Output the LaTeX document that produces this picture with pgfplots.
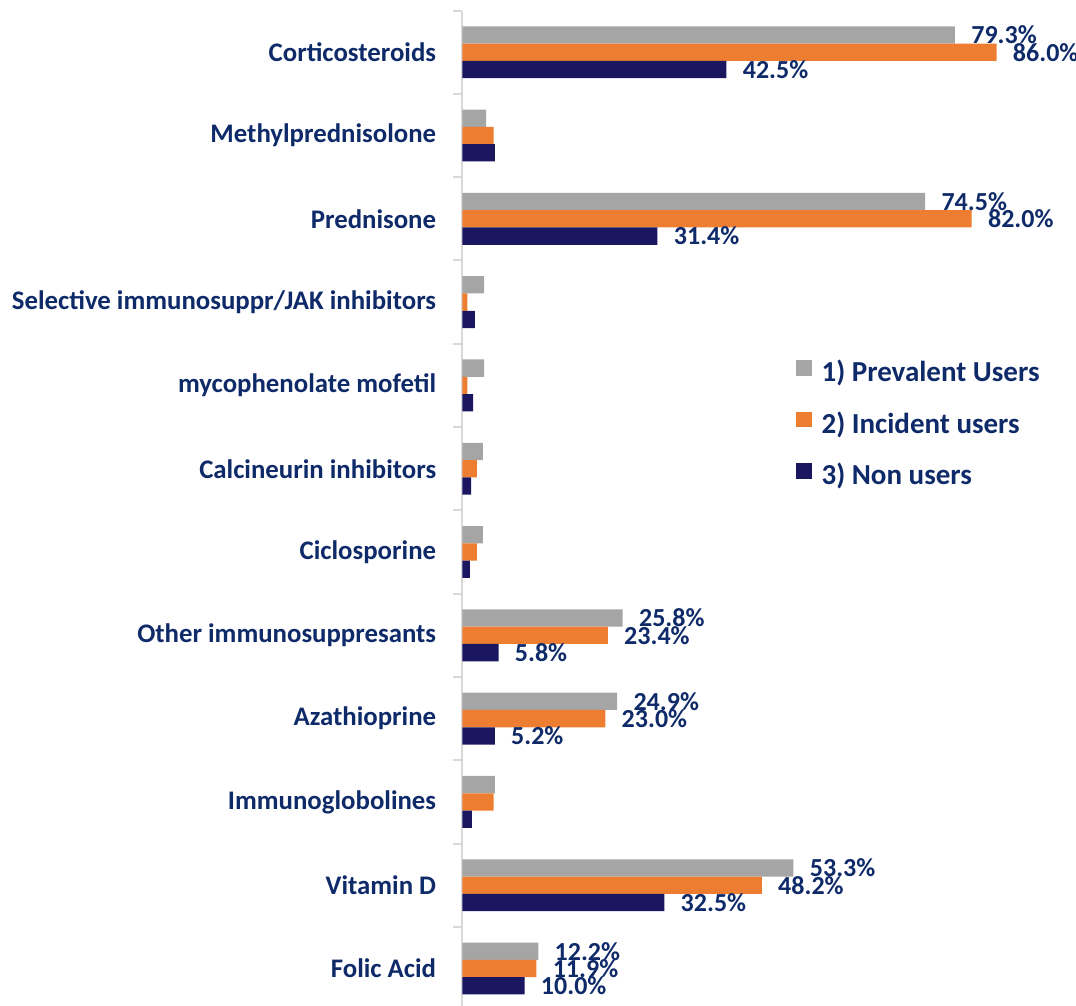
\documentclass[border=0pt]{standalone}
\usepackage{fontspec}
\setmainfont{Carlito}
\usepackage{pgfplots}
\pgfplotsset{compat=1.18}
\definecolor{cgray}{HTML}{A5A5A5}
\definecolor{corange}{HTML}{ED7D31}
\definecolor{cnavy}{HTML}{1A1760}
\definecolor{labblue}{HTML}{0E2A68}
\definecolor{axgray}{HTML}{D9D9D9}
\begin{document}
\begin{tikzpicture}
\begin{axis}[
  name=ax,
  scale only axis, width=304.3pt, height=497.7pt,
  xmin=0, xmax=98, ymin=-0.45, ymax=11.5,
  xbar, bar width=8.65pt,
  axis x line=none, axis y line*=left,
  y axis line style={draw=axgray, line width=1pt, -},
  ytick={0,...,11},
  yticklabels={Folic Acid, Vitamin D, Immunoglobolines, Azathioprine, Other immunosuppresants, Ciclosporine, Calcineurin inhibitors, mycophenolate mofetil, Selective immunosuppr/JAK inhibitors, Prednisone, Methylprednisolone, Corticosteroids},
  major tick length=0pt,
  minor ytick={0.5,1.5,...,11.5},
  minor tick length=4.5pt, tick align=outside,
  minor tick style={draw=axgray, line width=1pt},
  yticklabel style={font=\bfseries\fontsize{13.4}{15}\selectfont, text=labblue, inner sep=0pt, xshift=-13pt},
  nodes near coords, point meta=explicit symbolic,
  every node near coord/.append style={anchor=west, inner sep=0pt, xshift=8pt, font=\bfseries\fontsize{13}{15}\selectfont, text=labblue},
  legend style={at={(axis cs:53.7,7.306)}, anchor=north west, draw=none, fill=none, inner sep=0pt, outer sep=0pt,
    font=\bfseries\fontsize{14.5}{17}\selectfont, text=labblue, row sep=12pt, column sep=5pt,
    nodes={inner sep=0pt, text height=10pt, text depth=3pt}},
  legend cell align=left,
  legend image code/.code={\fill[#1] (0pt,-0.5pt) rectangle (7.8pt,7.3pt);},
]
\addplot[fill=cgray, draw=none, bar shift=8.65pt] coordinates {
 (79.3,11) [79.3\%] (3.8,10) [{}] (74.5,9) [74.5\%] (3.5,8) [{}] (3.5,7) [{}] (3.3,6) [{}]
 (3.3,5) [{}] (25.8,4) [25.8\%] (24.9,3) [24.9\%] (5.2,2) [{}] (53.3,1) [53.3\%] (12.2,0) [12.2\%]};
\addlegendentry{1) Prevalent Users}
\addplot[fill=corange, draw=none, bar shift=0pt] coordinates {
 (86.0,11) [86.0\%] (5.0,10) [{}] (82.0,9) [82.0\%] (0.8,8) [{}] (0.8,7) [{}] (2.3,6) [{}]
 (2.3,5) [{}] (23.4,4) [23.4\%] (23.0,3) [23.0\%] (5.0,2) [{}] (48.2,1) [48.2\%] (11.9,0) [11.9\%]};
\addlegendentry{2) Incident users}
\addplot[fill=cnavy, draw=none, bar shift=-8.65pt] coordinates {
 (42.5,11) [42.5\%] (5.2,10) [{}] (31.4,9) [31.4\%] (2.0,8) [{}] (1.7,7) [{}] (1.4,6) [{}]
 (1.2,5) [{}] (5.8,4) [5.8\%] (5.2,3) [5.2\%] (1.5,2) [{}] (32.5,1) [32.5\%] (10.0,0) [10.0\%]};
\addlegendentry{3) Non users}
\end{axis}
\pgfresetboundingbox
\path[use as bounding box] ([xshift=-231.25pt]ax.south west) rectangle ([xshift=306.75pt,yshift=503pt]ax.south west);
\end{tikzpicture}
\end{document}
